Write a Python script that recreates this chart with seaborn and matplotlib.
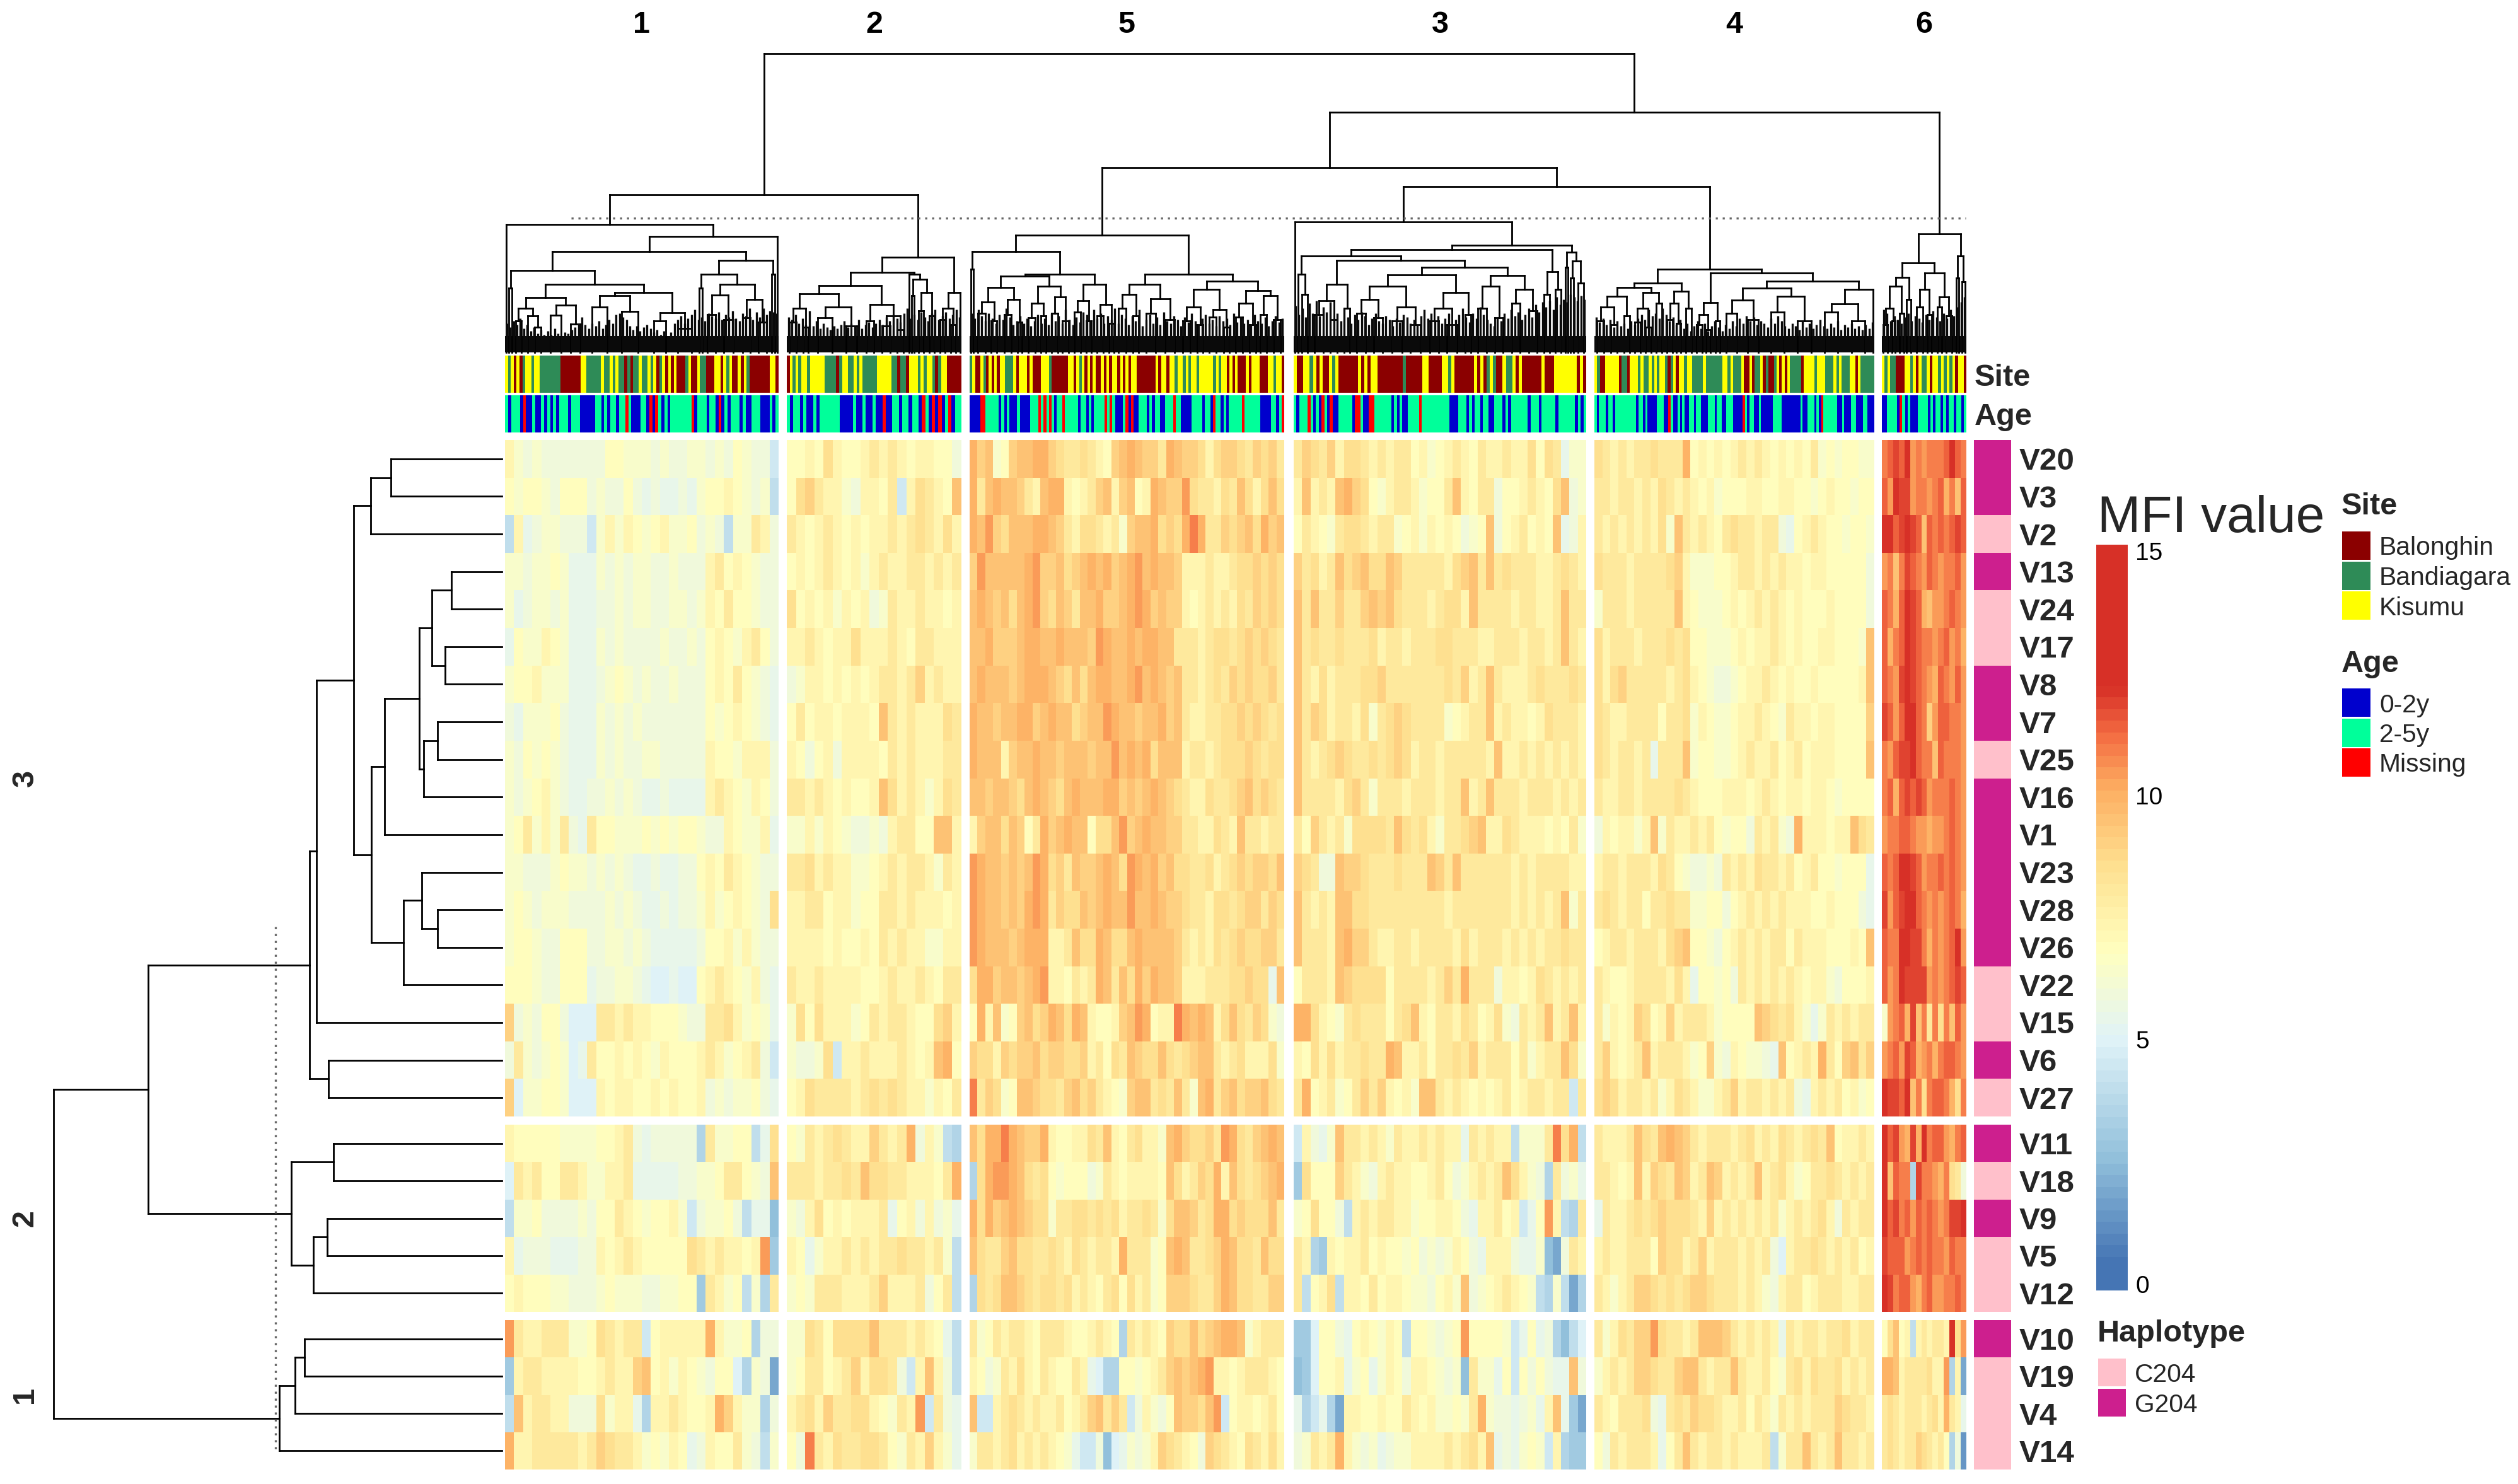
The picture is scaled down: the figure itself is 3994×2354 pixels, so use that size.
#!/usr/bin/env python3
"""MFI heatmap with column and row dendrograms, annotation strips and legends."""

from __future__ import annotations

import matplotlib

matplotlib.use("Agg")

import matplotlib.pyplot as plt
import numpy as np
import seaborn as sns
from matplotlib.cm import ScalarMappable
from matplotlib.collections import LineCollection
from matplotlib.colors import LinearSegmentedColormap, ListedColormap, Normalize
from matplotlib.patches import Rectangle

W, H = 3994, 2354

row_names = ["V20", "V3", "V2", "V13", "V24", "V17", "V8", "V7", "V25", "V16", "V1", "V23", "V28", "V26",
             "V22", "V15", "V6", "V27", "V11", "V18", "V9", "V5", "V12", "V10", "V19", "V4", "V14"]
row_block_sizes = [18, 5, 4]
haplotype = list("GGCGCCGGCGGGGGCCGCGCGCCGCCC")
cluster_order = ["1", "2", "5", "3", "4", "6"]

# MFI per row and column slice, one base-36 character per cell, in half MFI units
mfi_1 = [
    "fdcdc ccccc ceedd dcdcc ddcdc edcc9", "edeed ceeec dccec bcbbc bdeef edcd8", "8fbcd dccc9 dfdfe defdd ecdc8 ddgfc",
    "ddcdd edbbb dcdcd dccdc ccfge fedcc", "dbcdd cdbbb ccdcd dccdd cdfeg eedcc", "beddf edbbb dcdcc ccdcc dcefe dfgec",
    "deefd ddbbb cdedc dccdc ccefe gedcb", "cbddd ecbbb dcdcd ccccc ccede fedcb", "dcede dcbbb dcdcc ddccc ccfee dfffc",
    "dcdef dcbbc cdcdc bbcbb bbfgf edfec", "degdf dgcbg eeddd edede edccf eddfb", "ddccc deddc dcdcb bcbbc cefeg fedcc",
    "dedcd ddccc cdcdc bbcbc cdfde fedch", "deedc ceeec cddcd cbbbb bceef dfdcc", "eeedc ceeeb ccddc baaba aefgf edfcb",
    "icdce ecaaa ggfgf feeed ccggh fdedb", "cgdcd edabg eefef edfee efgfd efgc9", "iadde edaaa feffe efefe efcdc ddecb",
    "feeee edddd eefgc bcccc c7gdd ee8bh", "agfge eggfd dffgb bbbbc cddeg gedcj", "8ddec cccdc eegfe deefd 9cdde c8bb5",
    "fbccc bbbcc fefgf eeeee hgfgf fefl6", "efeee ddccc deddd ccdde e6gfd e8d7g",
    "lgffg ggdde hgfgg 9efff ffkfd de7cc", "6fggf fffee fgffi jefdf edcee a7dc4", "8jfgg ffccc hdffb 7ffgf eefki fdd7c",
    "kffgg gggfg ihggf dedfe bcfee gdc8d",
]
mfi_2 = [
    "eefeh feefg fgfef feec", "ehigf fdcff eg9fh gfej", "gfefg fefef fgfgh gfhf", "efefg fefdf gffgg fgfg",
    "hefef dfefc dgffg ffef", "ffgfe ffhff fgfeg gfff", "cdffe fefef ggfgi fgff", "egeff efffe jgfgf ffhg",
    "fecef cffff egfgf ffgg", "ggfgf efeef jhfgf dfhg", "ddfdf edccd cfgge ejjf", "gghfg ffdde fgfgg fdgf",
    "ffgge ffdee ggfgf ffef", "ffffe feefe gfgff ddff", "gffgf fffee fgffg fegg", "dhehf ffdeg fggfe ehif",
    "dccdh 9ffgf ffgfe fjke", "efhgg ggfgh ghgff dfeg", "edgfg hgffi gfgkc fd87", "gggfg ghgjh hggff fegk",
    "dcfhe fefff gbefc fcdb", "febdf fgfgf gghgg fgd8", "dedgg gfffg ifffg ceg8", "ddhge hhhhj gggfg feb8",
    "degge fgifh hgc9f jfc8", "fghfi gghhf edgfl 9gcb", "ecmgf hgghh gedgf ifdb",
]
mfi_5 = [
    "kijde ijjkk ihggh gfeij kjiig kjiih fhiih gihig", "kgjkj jigfj kkfef gijfi jefkj iilhg gfhgj hfhjh",
    "kjlih jjjkk jigfh hgfgd ijjkh ihkmk ggihi jhkij", "iljjj jjkli ijhij kjkij kljkj jifff gffgh hihih",
    "jkjij hjkli hjigj jkiij klkij iifef gfgfh gihih", "jjkii ijkkj jkjjj ilkjj kjkkj jgggf ghhgh ihihg",
    "jkjjj ijkkk jihjh jkkjj kljkj ijggf ghgih ihhig", "kjjij jkkij kjjhi jjlkj jijjk ijgff gghhi hihgh",
    "kjjjf ijjkj jijjj ijjlj kjkhj jjfgg fghhh ihghh", "jjijj ihjkj ihjkj jjkki jijkj ihgff hgghi jhihg",
    "fijjh jiegk ijkjj ehhjl ijkjj iiggf fhgfj ggfgg", "lkjji jijlk higji ijkjh lkjki jhhgg hfghi hiihj",
    "lkjji jiklk gihhj ijkjj ljjkj iihgg fhhgh iigih", "lkjjj ijkkk ffgjh hkjhh jkjjj jigfg fhghi hhiig",
    "hkkij jijkl ffegf gkjgj hkikj jifff ggghh ihhbj", "ekfjd eijhi kjhkj feefi jlkef fmkjk jfhjh gihdc",
    "ihhfi hiijh iihhi fgehg jihhj hghij jgfgh fffhd", "mgihd ejjih hgijh igfed ijjgh gjgdj kgijh iijhg",
    "jhkkm kjiik feeff hgjfe ghffd jkihh iglkh gijkj", "7hkll kjhgh edeee cdgfe ffffe jhfgi hkfjh ghijk",
    "khkij kjihh dgghh ghghf gghgd hjjig hkkhi hhhjg", "jhggi jhhgg hgfhg fggfk gggde jkjgg hikjh hgjhh",
    "7hghj jihgh hghfg feghe hfgde iiihg gikjh hggii", "gdegf ggfeg ggfee fgfe7 gfgfe ihhjh ijkkj dfggg",
    "fecdg fhfeg feegf ba77e edefg ijijk lffef gggfe", "j99fg hgfgf fgefg ijgig 9cfdc ejiih jl9ef fefge",
    "dggfg hfgfg fedb9 9c5ab dcdfi hgfec ihgfe hgfhf",
]
mfi_3 = [
    "gihgi fhhgf gfgge fdefg fegff gffhe hgbdd", "fjfgf jkihe dfggf deegj feggc eefgf ehjcd", "egfed ghhgf ggdef dfefe cdejc efgef ejbcf",
    "ighfg jhijh hjigg gggfh ijgjg hgggf fghgf", "jgjgg iggij ijhgg gfghh fjggg gfggf fgjgg", "jghgg hgggh fggfg gghhg ggffg ggfgg fgjgf",
    "jgfhf ggghh igggg ggghg ifgjg fffgh ggghg", "jgihf ggfhd ghihg gggde fggjf gffef hgggf", "jgfgh ihggh ghihf ggfgg gggfj ffgfg fgfgf",
    "jgggg fhigd gggfg ggfgg jfgjg ggfgg gfgfg", "geigf gdhhh hgjhg hfdgg hijff hgfff efegd", "ihgcc jiihg gghgg gjigj ggggg gfgfg gggff",
    "jgfgf jjhhg ggggg gggfg ggggg gfgfg fgjdg", "jgggf jkiig ffggf ggggf hfggg fgfgf gghgg", "egggf jihhh heggg gfgig kgggc ffefh gfgfg",
    "kkhfe dghgg geghj feggf hgefh dcgfg jfgjf", "fehfh fgghg gkjff geggh gifgg gegdf ggjhd", "gkefg degig ifefd jjgfg fefef gefgg fgg9g",
    "9fcbd jggfg fdgff gfgff bgfgf f8ddd gmhk8", "6heee igfdc fgffe efgec dfgfg jhfdc 7gcdb", "dehee c8fgf ggffd eeffe cbffg ef9be lf87g",
    "gf76f effge feede cdcdf ecbff fcbbd 54cgf", "g8efh 8ffeg effed dcefd jcdef gfed8 7d847",
    "66aee cbefe dfe8e edcde leeee d9beb c758a", "56aee fbdeb dfecf fedcd 5gddb e9ece cbbjc", "b79b7 4ffee feegf efdde dgkdc cbcdb fjb64",
    "cdgfg kfdcd bcddf fffgf ghfjb cbded 9f766",
]
mfi_4 = [
    "hgfgf gghgg gkefe fefgf gfefe fegde deedd", "ggfgg fgfhg fgfef deeef feeff eedef eedee", "gfgfg fgfhd jgfgf eghgg fggcb efgfe edeed",
    "hgggf ggggh ifddd eefgg fgfgf feffe eeeec", "dgggf ggggg jfedd defef gfgfe feeef eeeec", "hfggg fgggh gheed ddefe ffgfe feeff eeedj",
    "hfhig ggggf ghfed ccdef fgfef eefee eeefj", "hgffg gggeg ghdfe ddeff gfedg ffeff eeeei", "hgfgg fgbgg gjdee ddefg ffgef gefff eeeej",
    "gffgg fgggg hgfee efffe fgfef feffe deeee", "cfeff dfjdg ffgfg edeec gfgdc kfffe ffjhg", "fggfg ggfhg edccd cgfgf hggfg efgee deeeb",
    "ghgfg geggh ggdde ecefg fgfgf ffeef eeecb", "efggf gggfh ijeed cefgf gfgge gfffe eefej", "gfeef ggggf hfbee decgf gfgfg feffd ceeef",
    "gdfef ihefi fgggf deeee jihgh fdbdg fgfgg", "gifef gjfgg gfdei dcfed dcbje fgfkg eijgi", "hihfg gfgdf hgfdd fgifg gfgfg cbfgf gefde",
    "gfffg jhgjk jigfg ggfgh fgfhg fghgj effgf", "ggfef jfihg jifgj ifgfg jfghf deggh gfgfg", "bgffg hghih hhgfi fgfgf gfgdf gfghf cgfgg",
    "fgffg ggeih hfgif gggfg fgcaf gghgf gfgef", "gfdfg iihgh ghiih gggfg fdcfg gefgg gffgg",
    "gdfhg iilhg gfgjj jigfg fgfbg fggfg ghfgg", "dfgfg iihgg ijjgf ggjgf fgedg hfhgg hfgfg", "gfegg ghcbg hgihh gffge gfdgf gfggg ihggf",
    "ecgfg ggfbe gjgfg gfgff fg8dg gjgfg jggfg",
]
mfi_6 = [
    "mnonp lmlmm mnpnm", "nlpoo lmmlm nkmjn", "ppnop onjnm nmnon", "lmjmo nmlnm lmmnl", "nmknp onkjl lmnml", "nkmnp onmml mnlmk",
    "nmlop onmlk nmlnl", "onlnp pnmil nnmml", "mlnoo pnmmj nmmml", "mnkno nonlm mmnml", "lmmnn mllkl lmnml", "nmnpp onlmm nmnml",
    "olnop pnmlm lmnmk", "nmmpp oomkm lmnpl", "nlmpo ooolm lmnon", "dlmnk ojmgm hmjnl", "lmnlo nklmk mnnml", "poonp jmhmn nmkhm",
    "pnolk okpmn nlkmn", "pjnmm 7omml kmhgc", "pnomn lnmnm lmoop", "onnnl mnmnm mlnmm", "pomnn lkmnl lmmnm",
    "ehjef 8fgfg gfphl", "kkjfg ggghf fl7f4", "ghgfg ggfgh fkgfb", "ghgfg gihgf ge7c3",
]

# per column annotation: K Kisumu, B Balonghin, D Bandiagara / A 0-2y, S 2-5y, M missing
site_1 = "KDKBKBDKKDKKDDDDDDDBBBBBBBKKDDDDDKDDKDKDDBDBDDKDDKDKBDKBKBKBBBDKBBKDDBBBKKBKDKBBKBKDBBBBBBBKKB"
site_2 = "BKDKDKKDKKKKKDDDDBDKKDDKDKDDDDDKKKKKDDBDDBKKKDKDKKDBDKKBBBBB"
site_5 = "DKBBKDBKBKBKKDDDKBKKKBKBBBKKKDBBBBBBKKBKDKBKBKBBKBKBKKBKBKBKKBBBBBBBKBKKBKKDKKDKDKKDKKKKKDKDKKBKBKBBBKBKKKBBBKKDKKB"
site_3 = "KBBKKDKBKBBKDKBBBBBBKBKBKKBBBBBBBBDBBBBBKKBBBBKKDKBBBBBBKBKBDKDBBKDDKBKBBBBBBKBBBKKKKKKKBKB"
site_4 = "KDBBKKKKKBDDBKKKDKDDKDKDKKDBDKBKKDKKDDDDKDDDDDDKKDKDDDKBBKBDDKBDBBDKBKBKDDDDBKKKKDKKKDDDKDKDDDKKBKDDDDD"
site_6 = "KDKDDBBBKKDKBKDDKBKKDKDKDKBKKB"
age_1 = "SASSSAMAASAASASASASSSASSSAAAAASSASASSASSMSAAASSAMAMSASASSSSSSSMASSSASSAMASASSSASAASSSAAASAS"
age_2 = "SASSASAASASSSSSSAAAASAASAASAAMAASSASSASSAMSAMAMASMASS"
age_5 = "AAAAMMSSSSSASASAAASAAAASSSMSMSMSASSMSSSSSASSASASSSSMSMSAAASMAMAASSSASASSAASSSMSSAAAASSSSASSAMSSASASSSSSMSSSSSSAAAASSASM"
age_3 = "SASSSMSASAMSAMAASSSSSAMMSAAMMSSSSSSASASAASSSSMSSSSSSSSSSAAASSSASASSASSAASSSASASSSSSSASSSASSSSSASSSSSSASAS"
age_4 = "SASSSASSASSSSSSSSSASSASAAAASSSAAMSAASASAASSASSAAASSSASSAASSSAAAAMSASSAASAAAAASSSSAAAAAAAASAASSSASAMSSSSSSAASAAASSAAASSAAA"
age_6 = "AASSSSAMSASAAASSSSASASSASASSASSAS"

# dendrogram trees: (height, left, right), a plain int is a leaf holding that many column slots
tree_1 = (203, 1, (184, (160, (130, (102, 1, 1), (108, (87, (70, (50, 2, 2), (58, 3, (40, 2, 3))),
                                                   (75, (59, 4, 4), (45, 3, 4))),
                                             (95, (90, (72, 5, 6), (65, 5, 7)), (63, (50, 5, 4), (38, 5, 5))))),
                           (146, (124, (102, 1, 1), (108, (91, (60, 3, 3), (52, 3, 4)), (84, (55, 3, 3), (48, 3, 3)))),
                            (124, 1, 1))), 1))
tree_2 = (151, (127, (106, (93, (70, (48, 2, 3), (40, 2, 2)), (72, (55, 5, 6), (42, 4, 4))),
                      (76, (50, 3, 3), (58, (42, 3, 3), (36, 2, 3)))),
                (124, 1, (116, (90, 1, 1), (95, (66, 2, 2), (58, 2, 2))))),
          (95, (70, (52, 2, 2), (44, 2, 2)), 1))
tree_5 = (186, (160, (132, 1, 1),
                (124, (121, (103, (80, (62, 3, 3), (50, 2, 3)), (84, (60, 3, 3), (48, 2, 2))),
                       (105, (78, (55, 3, 3), (58, 2, 2)), (88, (62, 3, 2), (50, 2, 3)))),
                 (108, (82, (64, 2, 3), (50, 2, 2)), (76, (58, 3, 2), (46, 3, 1))))),
          (124, (108, (92, (70, 3, 3), (58, 3, 2)), (85, (62, 4, 4), (52, 4, 4))),
           (113, (100, (72, (50, 3, 3), (44, 3, 2)), (68, (56, 3, 3), (40, 3, 2))),
            (98, (78, (56, 3, 3), (44, 3, 2)), (90, (60, 2, 3), (52, 3, 3))))))
tree_3 = (207, 1, (170, (163, (153, (124, 1, (92, 2, 2)),
                               (146, (108, (82, (60, 3, 3), (52, 2, 3)), (70, 2, 2)),
                                (135, (123, (105, (84, (62, 3, 3), (55, 3, 3)), (72, (50, 4, 3), (44, 3, 4))),
                                       (95, (70, (50, 3, 3), (44, 3, 4)), (60, 2, 2))),
                                 (122, (105, (70, 3, 3), (55, 3, 3)), (100, (78, 3, 3), (66, 3, 3)))))),
                         (128, (92, 2, 2), (100, 2, 2))),
                   (159, (135, 1, 1), (145, (118, 1, 1), (110, 2, 2)))))
tree_4 = (132, (110, (103, (89, (72, (50, 2, 3), (44, 2, 3)), (58, 2, 2)), (95, (70, (48, 2, 2), (40, 2, 2)), (78, 2, 2))),
                (97, (78, (52, 2, 2), (46, 1, 2)), (70, 2, 2))),
          (126, (79, (60, (44, 2, 2), (36, 1, 2)), (50, 2, 1)),
           (113, (102, (83, (62, 4, 4), (52, 4, 4)), (89, (64, 5, 5), (50, 5, 5))),
            (100, (77, (64, 5, 5), (50, 5, 5)), 1))))
tree_6 = (188, (142, (119, (105, (70, (44, 1, 2), (50, 1, 1)), (62, 2, 1)), (84, 1, 2)),
                (126, (100, (72, 2, 2), (60, 1, 2)), (88, (72, 2, 1), (58, 2, 2)))),
          (153, (118, 1, 1), (112, 1, 1)))
tree_upper = (474, (250, "1", "2"), (381, (293, "5", (263, "3", "4")), "6"))

row_tree = (711, (561, (305, (294, (235, (208, (176, "V20", "V3"), "V2"),
                                    (207, (186, (131, (111, (80, "V13", "V24"), (90, "V17", "V8")),
                                                 (124, (102, "V7", "V25"), "V16")), "V1"),
                                     (156, (127, "V23", (102, "V28", "V26")), "V22"))), "V15"),
                        (275, "V6", "V27")),
                  (334, (267, "V11", "V18"), (299, (277, "V9", "V5"), "V12"))),
            (353, (328, (313, "V10", "V19"), "V4"), "V14"))

# heights of the dense low branches under each column tree
comb_1 = [46, 40, 50, 44, 54, 38, 44, 34, 40, 30, 36, 28, 34, 28, 38, 30, 26, 32, 30, 36, 40, 46, 56, 44, 38, 46, 42, 50,
          38, 44, 52, 46, 60, 62, 56, 52, 42, 36, 42, 34, 40, 44, 38, 32, 36, 28, 34, 26, 32, 46, 52, 58, 46, 54, 60, 68,
          52, 56, 50, 62, 58, 54, 64, 52, 60, 56, 66, 54, 50, 62, 58, 70, 52, 64, 56, 70, 60, 66, 64, 62]
comb_2 = [56, 52, 60, 46, 54, 44, 66, 42, 50, 38, 46, 40, 36, 42, 38, 44, 50, 40, 46, 42, 52, 38, 44, 48, 40, 46, 52, 44,
          56, 50, 60, 54, 48, 62, 70, 54, 60, 52, 64, 56, 50, 62, 68, 52, 58, 64, 54, 60, 68, 56]
comb_5 = [62, 54, 68, 58, 50, 62, 54, 46, 60, 52, 70, 56, 44, 50, 58, 46, 54, 42, 50, 60, 46, 54, 44, 62, 50, 58, 46, 68,
          52, 44, 56, 48, 64, 60, 50, 68, 54, 62, 46, 58, 52, 70, 46, 60, 54, 44, 58, 50, 68, 42, 52, 60, 46, 56, 44, 64,
          50, 46, 58, 52, 42, 56, 48, 62, 50, 44, 54, 60, 46, 52, 42, 58, 50, 54, 44, 62, 48, 56, 46, 52, 44, 60, 50, 46,
          56, 42, 50, 58, 48, 54]
comb_3 = [74, 60, 70, 56, 78, 62, 82, 58, 72, 64, 80, 54, 62, 50, 70, 56, 46, 60, 52, 64, 58, 44, 54, 62, 50, 46, 58, 52,
          42, 54, 48, 60, 56, 46, 52, 44, 58, 68, 54, 62, 50, 58, 46, 54, 62, 44, 52, 60, 70, 56, 48, 62, 54, 72, 60, 52,
          46, 42, 56, 50, 62, 54, 68, 58, 64, 52, 60, 70, 56, 76, 64, 80, 72, 82, 68, 88, 76, 84, 80, 92, 88, 82, 90, 84]
comb_4 = [56, 48, 54, 44, 52, 40, 50, 42, 46, 38, 50, 44, 54, 60, 52, 68, 58, 62, 54, 70, 60, 50, 56, 44, 52, 38, 46, 34,
          42, 50, 38, 46, 34, 42, 50, 40, 34, 44, 38, 50, 42, 54, 46, 58, 50, 56, 44, 50, 46, 40, 54, 46, 58, 50, 42, 38,
          46, 42, 36, 50, 40, 46, 38, 44, 52, 42, 38, 46, 40, 50, 36, 44, 40, 46, 38, 42, 36, 44, 38, 48]
comb_6 = [68, 62, 50, 58, 52, 46, 56, 62, 50, 58, 54, 48, 60, 52, 66, 56, 50, 62, 54, 68, 58, 72, 80, 88]

# colour scale
scale_values = [-0.13, 0.4, 2.5, 5.0, 6.8, 8.6, 10.2, 11.3, 12.3, 15.13]
scale_colours = ["#4575B4", "#4575B4", "#91BFDB", "#E0F3F8", "#FFFFBF", "#FEE090", "#FDAE61", "#F46D43", "#D73027", "#D73027"]
scale_ticks = [0, 5, 10, 15]
scale_min, scale_max = -0.13, 15.13

site_names = ["Balonghin", "Bandiagara", "Kisumu"]
site_colours = ["#8B0000", "#2E8B57", "#FFFF00"]
age_names = ["0-2y", "2-5y", "Missing"]
age_colours = ["#0000CD", "#00FF9A", "#FF0000"]
haplotype_names = ["C204", "G204"]
haplotype_colours = ["#FFC0CB", "#CD1F8E"]

cluster_rows = {"1": mfi_1, "2": mfi_2, "5": mfi_5, "3": mfi_3, "4": mfi_4, "6": mfi_6}
cluster_sites = {"1": site_1, "2": site_2, "5": site_5, "3": site_3, "4": site_4, "6": site_6}
cluster_ages = {"1": age_1, "2": age_2, "5": age_5, "3": age_3, "4": age_4, "6": age_6}
cluster_trees = {"1": tree_1, "2": tree_2, "5": tree_5, "3": tree_3, "4": tree_4, "6": tree_6}
cluster_combs = {"1": comb_1, "2": comb_2, "5": comb_5, "3": comb_3, "4": comb_4, "6": comb_6}

# layout, in reference pixels
cluster_x = {"1": (801, 1235), "2": (1248, 1525), "5": (1538, 2037), "3": (2052, 2516), "4": (2529, 2973), "6": (2985, 3119)}
block_y = [(698, 1771), (1784, 2081), (2094, 2331)]
tree_top, tree_base = 85, 559
row_tree_left, row_tree_right = 85, 796


def px_axes(fig, x0, y0, x1, y1):
    ax = fig.add_axes([x0 / W, 1 - y1 / H, (x1 - x0) / W, (y1 - y0) / H])
    ax.set_axis_off()
    return ax


def decode(rows):
    return np.array([[int(ch, 36) / 2 for ch in row.replace(" ", "")] for row in rows])


def strip(fig, codes, order, colours, x0, y0, x1, y1):
    ax = px_axes(fig, x0, y0, x1, y1)
    values = np.array([[order.index(ch) for ch in codes]])
    sns.heatmap(values, ax=ax, cmap=ListedColormap(colours), vmin=-0.5, vmax=len(colours) - 0.5,
                cbar=False, xticklabels=False, yticklabels=False)
    return ax


def walk_tree(node, leaf_at, segments):
    if not isinstance(node, tuple):
        return leaf_at(node)
    height, left, right = node
    p1, h1 = walk_tree(left, leaf_at, segments)
    p2, h2 = walk_tree(right, leaf_at, segments)
    segments.extend([[(p1, h1), (p1, height)], [(p2, h2), (p2, height)], [(p1, height), (p2, height)]])
    return (p1 + p2) / 2, height


def count_slots(node):
    if not isinstance(node, tuple):
        return node
    return count_slots(node[1]) + count_slots(node[2])


def cluster_tree_segments(name, segments):
    x0, x1 = cluster_x[name]
    tree = cluster_trees[name]
    slot = (x1 - x0) / count_slots(tree)
    cursor = [x0]

    def leaf_at(n):
        x = cursor[0] + n * slot / 2
        cursor[0] += n * slot
        return x, 0

    return walk_tree(tree, leaf_at, segments)


def main() -> int:
    sns.set_theme(style="white")
    plt.rcParams["font.family"] = ["Liberation Sans", "DejaVu Sans"]

    fig = plt.figure(figsize=(W / 200, H / 200), dpi=200, facecolor="white")
    cmap = LinearSegmentedColormap.from_list(
        "mfi", [((v - scale_min) / (scale_max - scale_min), c) for v, c in zip(scale_values, scale_colours)], N=64)

    # heatmap panels
    starts = np.cumsum([0] + row_block_sizes)
    for name in cluster_order:
        matrix = decode(cluster_rows[name])
        x0, x1 = cluster_x[name]
        for b, (y0, y1) in enumerate(block_y):
            ax = px_axes(fig, x0, y0, x1, y1)
            sns.heatmap(matrix[starts[b]:starts[b + 1]], ax=ax, cmap=cmap, vmin=scale_min, vmax=scale_max,
                        cbar=False, xticklabels=False, yticklabels=False)
        strip(fig, cluster_sites[name], "BDK", site_colours, x0, 564, x1, 623)
        strip(fig, cluster_ages[name], "ASM", age_colours, x0, 627, x1, 686)

    # haplotype column
    for b, (y0, y1) in enumerate(block_y):
        ax = px_axes(fig, 3131, y0, 3190, y1)
        values = np.array([[("CG").index(h)] for h in haplotype[starts[b]:starts[b + 1]]])
        sns.heatmap(values, ax=ax, cmap=ListedColormap(haplotype_colours), vmin=-0.5, vmax=1.5,
                    cbar=False, xticklabels=False, yticklabels=False)

    # column dendrogram
    ax_top = px_axes(fig, 801, tree_top, 3119, tree_base)
    ax_top.set_xlim(801, 3119)
    ax_top.set_ylim(0, tree_base - tree_top)
    segments = []
    roots = {name: cluster_tree_segments(name, segments) for name in cluster_order}
    walk_tree(tree_upper, lambda n: roots[n], segments)
    ax_top.add_collection(LineCollection(segments, colors="black", linewidths=1.0, capstyle="projecting", clip_on=False))
    for name in cluster_order:
        x0, x1 = cluster_x[name]
        comb = cluster_combs[name]
        half = (x1 - x0) / len(comb) / 2
        ax_top.vlines(np.linspace(x0 + half, x1 - half, len(comb)), 0, comb, colors="#0a0a0a", linewidths=1.2)
        ax_top.fill_between([x0, x1], 0, 26, color="#0a0a0a", linewidth=0)
    ax_top.plot([906, 3118], [213, 213], color="#666666", lw=1.2, ls=(0, (1, 2.3)), clip_on=False)

    # row dendrogram
    row_centres = {}
    i = 0
    for b, (y0, y1) in enumerate(block_y):
        size = row_block_sizes[b]
        for k in range(size):
            row_centres[row_names[i]] = y0 + (k + 0.5) * (y1 - y0) / size
            i += 1
    ax_left = px_axes(fig, row_tree_left, 698, row_tree_right, 2331)
    ax_left.set_xlim(row_tree_right - row_tree_left, 0)
    ax_left.set_ylim(2331, 698)
    segments = []
    walk_tree(row_tree, lambda n: (row_centres[n], 0), segments)
    segments = [[(h, p) for p, h in seg] for seg in segments]
    ax_left.add_collection(LineCollection(segments, colors="black", linewidths=1.0, capstyle="projecting", clip_on=False))
    ax_left.plot([359, 359], [1470, 2301], color="#666666", lw=1.2, ls=(0, (1, 2.3)), clip_on=False)

    # colour bar
    cax = fig.add_axes([3325 / W, 1 - 2047 / H, 50 / W, 1183 / H])
    bar = fig.colorbar(ScalarMappable(norm=Normalize(scale_min, scale_max), cmap=cmap), cax=cax, ticks=scale_ticks)
    bar.outline.set_visible(False)
    bar.solids.set_edgecolor("face")
    cax.tick_params(axis="y", direction="in", left=True, right=True, length=5, width=0.9, colors="white",
                    labelcolor="black", labelsize=14, pad=4.5)

    # overlay for text and legend swatches
    over = fig.add_axes([0, 0, 1, 1], facecolor="none")
    over.set_xlim(0, W)
    over.set_ylim(H, 0)
    over.set_axis_off()

    for name in cluster_order:
        x0, x1 = cluster_x[name]
        over.text((x0 + x1) / 2, 40, name, ha="center", va="center", fontsize=17.5, fontweight="bold", color="black")
    for label, (y0, y1) in zip(["3", "2", "1"], block_y):
        over.text(40, (y0 + y1) / 2, label, rotation=90, ha="center", va="center", fontsize=17.5, fontweight="bold")
    for name, y in row_centres.items():
        over.text(3203, y + 5, name, ha="left", va="center", fontsize=17.8, fontweight="bold")
    over.text(3132, 599, "Site", ha="left", va="center", fontsize=17.5, fontweight="bold")
    over.text(3132, 662, "Age", ha="left", va="center", fontsize=17.5, fontweight="bold")
    over.text(3327, 823, "MFI value", ha="left", va="center", fontsize=29.5)

    def legend(title, title_x, title_y, names, colours, swatch_y, pitch, size, label_x):
        over.text(title_x, title_y, title, ha="left", va="center", fontsize=17.5, fontweight="bold")
        for k, (label, colour) in enumerate(zip(names, colours)):
            over.add_patch(Rectangle((title_x + 1, swatch_y + k * pitch), size[0], size[1], color=colour, linewidth=0))
            over.text(label_x, swatch_y + k * pitch + size[1] / 2 + 4, label, ha="left", va="center", fontsize=14.7)

    legend("Site", 3714, 803, site_names, site_colours, 843, 47.5, (45, 45), 3774)
    legend("Age", 3714, 1053, age_names, age_colours, 1092, 47.5, (45, 45), 3774)
    legend("Haplotype", 3327, 2116, haplotype_names, haplotype_colours, 2155, 47.5, (44, 44), 3386)

    fig.savefig("out.png", dpi=200, facecolor="white")
    plt.close(fig)
    return 0


if __name__ == "__main__":
    raise SystemExit(main())
